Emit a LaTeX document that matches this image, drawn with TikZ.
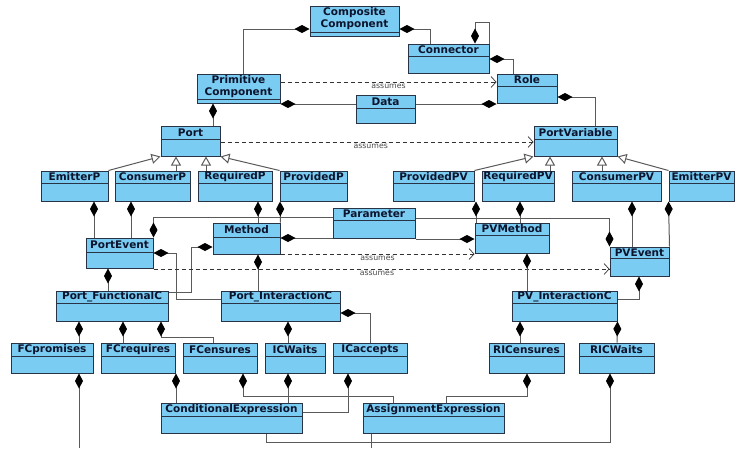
\documentclass[tikz,border=0pt]{standalone}
\usepackage{fontspec}
\setmainfont{DejaVu Sans}
\usetikzlibrary{arrows.meta,fit,calc}
\definecolor{boxfill}{RGB}{122,204,242}
\definecolor{boxline}{RGB}{40,52,70}
\definecolor{ink}{RGB}{12,20,45}
\definecolor{wire}{RGB}{90,90,90}
\tikzset{
 box/.style={draw=boxline, fill=boxfill, line width=1pt, inner sep=0pt},
 title/.style={font=\fontsize{10.5}{12}\selectfont\bfseries, text=ink, inner sep=0pt, align=center},
 comp/.style={draw=wire, line width=1pt, arrows={Diamond[length=15pt,width=8pt,color=black,fill=black]-}},
 inh/.style={draw=wire, line width=1pt, arrows={-Triangle[open,length=9pt,width=10pt,fill=white]}},
 dep/.style={draw=black!80, line width=0.7pt, dash pattern=on 4pt off 3pt, arrows={-Straight Barb[length=5pt,width=11pt]}},
 lab/.style={font=\fontsize{7.8}{9}\selectfont, text=black!70, inner sep=0pt},
}
\newcommand\cls[7]{%
  \coordinate (#1-a) at (#2,#3);
  \coordinate (#1-b) at (#4,#5);
  \node[box, fit=(#1-a)(#1-b)] (#1) {};
  \draw[boxline, line width=1pt] (#2,#6) -- (#4,#6);
  \node[title] (#1-t) at ({(#2+#4)/2},{(#3+#6)/2}) {#7};
}
\begin{document}
\begin{tikzpicture}[x=1pt,y=-1pt]
\useasboundingbox (0,0) rectangle (736,448);
\fill[white] (0,0) rectangle (736,448);
% boxes
\cls{CC}{310}{6}{399}{36}{32}{Composite\\Component}
\cls{Conn}{408}{44}{489}{73}{56}{Connector}
\cls{PC}{197}{74}{280}{103}{99}{Primitive\\Component}
\cls{Role}{497}{74}{557}{103}{86}{Role}
\cls{Data}{356}{95}{415}{123}{108}{Data}
\cls{Port}{161}{126}{220}{156}{139}{Port}
\cls{PV}{534}{126}{617}{156}{139}{PortVariable}
\cls{EmitterP}{41}{171}{108}{201}{183}{EmitterP}
\cls{ConsumerP}{115}{171}{190}{201}{183}{ConsumerP}
\cls{RequiredP}{198}{171}{272}{201}{183}{RequiredP}
\cls{ProvidedP}{280}{171}{347}{201}{183}{ProvidedP}
\cls{ProvidedPV}{393}{171}{474}{201}{183}{ProvidedPV}
\cls{RequiredPV}{482}{171}{554}{201}{183}{RequiredPV}
\cls{ConsumerPV}{572}{171}{661}{201}{183}{ConsumerPV}
\cls{EmitterPV}{669}{171}{734}{201}{183}{EmitterPV}
\cls{PortEvent}{86}{238}{153}{268}{252}{PortEvent}
\cls{Method}{213}{223}{280}{254}{237}{Method}
\cls{Parameter}{333}{208}{415}{238}{220}{Parameter}
\cls{PVMethod}{475}{223}{549}{253}{235}{PVMethod}
\cls{PVEvent}{610}{247}{669}{276}{258}{PVEvent}
\cls{PFC}{56}{291}{168}{321}{303}{Port\_FunctionalC}
\cls{PIC}{221}{291}{340}{321}{303}{Port\_InteractionC}
\cls{PVIC}{512}{291}{617}{321}{303}{PV\_InteractionC}
\cls{FCpromises}{11}{343}{93}{373}{356}{FCpromises}
\cls{FCrequires}{101}{343}{175}{373}{356}{FCrequires}
\cls{FCensures}{183}{343}{257}{373}{356}{FCensures}
\cls{ICWaits}{265}{343}{325}{373}{356}{ICWaits}
\cls{ICaccepts}{333}{343}{407}{373}{356}{ICaccepts}
\cls{RICensures}{489}{343}{564}{373}{356}{RICensures}
\cls{RICWaits}{579}{343}{654}{373}{356}{RICWaits}
\cls{CE}{161}{403}{302}{433}{416}{ConditionalExpression}
\cls{AE}{363}{403}{504}{433}{416}{AssignmentExpression}
\coordinate (offA) at (79,448);
\coordinate (offB) at (371,448);
% top part
\draw[comp] (CC.west |- 0,29) -| (PC.north -| 243,0);
\draw[comp] (CC.east |- 0,29) -| (Conn.north -| 430,0);
\draw[comp] (Conn.north -| 475,0) -- ++(0,-21) -| (Conn.north east);
\draw[comp] (Conn.east |- 0,59) -| (Role.north -| 513,0);
\draw[dep] (PC.east |- 0,82) -- node[lab, below=2pt] {assumes} (Role.west |- 0,82);
\draw[comp] (PC.east |- 0,104) -- (Data.west |- 0,104);
\draw[comp] (Role.west |- 0,104) -- (Data.east |- 0,104);
\draw[comp] (Role.east |- 0,97) -| (PV.north -| 595,0);
\draw[comp] (PC.south -| 213,0) -- (Port.north -| 213,0);
\draw[dep] (Port.east |- 0,142) -- node[lab, below=2pt, pos=0.48] {assumes} (PV.west |- 0,142);
% inheritance
\draw[inh] (EmitterP.north east) -- (Port.south west);
\draw[inh] (ConsumerP.north -| 176,0) -- (Port.south -| 176,0);
\draw[inh] (RequiredP.north -| 206,0) -- (Port.south -| 206,0);
\draw[inh] (ProvidedP.north west) -- (Port.south east);
\draw[inh] (ProvidedPV.north east) -- (PV.south west);
\draw[inh] (RequiredPV.north -| 550,0) -- (PV.south -| 550,0);
\draw[inh] (ConsumerPV.north -| 602,0) -- (PV.south -| 602,0);
\draw[inh] (EmitterPV.north west) -- (PV.south east);
% middle
\draw[comp] (EmitterP.south -| 94,0) -- (PortEvent.north -| 94,0);
\draw[comp] (ConsumerP.south -| 131,0) -- (PortEvent.north -| 131,0);
\draw[comp] (RequiredP.south -| 258,0) -- (Method.north -| 258,0);
\draw[comp] (ProvidedP.south -| 280,0) -- (Method.north east);
\draw[comp] (PortEvent.north east) |- (Parameter.west |- 0,217);
\draw[comp] (Method.east |- 0,238) -- (Parameter.west |- 0,238);
\draw[comp] (PVEvent.north west) |- (Parameter.east |- 0,218);
\draw[comp] (PVMethod.west |- 0,239) -- (Parameter.east |- 0,239);
\draw[comp] (ProvidedPV.south -| 476,0) -- (PVMethod.north -| 476,0);
\draw[comp] (RequiredPV.south -| 520,0) -- (PVMethod.north -| 520,0);
\draw[comp] (ConsumerPV.south -| 632,0) -- (PVEvent.north -| 632,0);
\draw[comp] (EmitterPV.south west) -- (PVEvent.north east);
\draw[comp] (PortEvent.south -| 108,0) -- (PFC.north -| 108,0);
\draw[comp] (PortEvent.east |- 0,253) -- ++(23,0) |- (PIC.west |- 0,299);
\draw[comp] (Method.west |- 0,247) -- ++(-21,0) |- (PFC.east |- 0,292);
\draw[comp] (Method.south -| 258,0) -- (PIC.north -| 258,0);
\draw[dep] (Method.east |- 0,254) -- node[lab, below=2pt] {assumes} (PVMethod.west |- 0,254);
\draw[dep] (PortEvent.east |- 0,269) -- node[lab, below=2pt, pos=0.49] {assumes} (PVEvent.west |- 0,269);
\draw[comp] (PVMethod.south -| 527,0) -- (PVIC.north -| 527,0);
\draw[comp] (PVEvent.south -| 639,0) |- (PVIC.east |- 0,299);
% lower
\draw[comp] (PFC.south -| 79,0) -- (FCpromises.north -| 79,0);
\draw[comp] (PFC.south -| 123,0) -- (FCrequires.north -| 123,0);
\draw[comp] (PFC.south -| 161,0) -- ++(0,16) -| (FCensures.north -| 213,0);
\draw[comp] (PIC.south -| 288,0) -- (ICWaits.north -| 288,0);
\draw[comp] (PIC.east |- 0,313) -| (ICaccepts.north -| 370,0);
\draw[comp] (PVIC.south -| 520,0) -- (RICensures.north -| 520,0);
\draw[comp] (PVIC.south east) -- (RICWaits.north -| 617,0);
\draw[comp] (FCpromises.south -| 79,0) -- (offA);
\draw[comp] (FCrequires.south -| 176,0) -- (CE.north -| 176,0);
\draw[comp] (FCensures.south -| 243,0) -- ++(0,23) -| (AE.north -| 393,0);
\draw[comp] (ICWaits.south -| 288,0) -- (CE.north -| 288,0);
\draw[comp] (ICaccepts.south -| 348,0) |- (CE.east |- 0,412);
\draw[comp] (RICensures.south -| 527,0) -- ++(0,23) -| (AE.north -| 446,0);
\draw[comp] (RICWaits.south -| 610,0) -- ++(0,69) -| (CE.south -| 266,0);
\draw[draw=wire, line width=1pt] (AE.south -| 371,0) -- (offB);
\end{tikzpicture}
\end{document}
